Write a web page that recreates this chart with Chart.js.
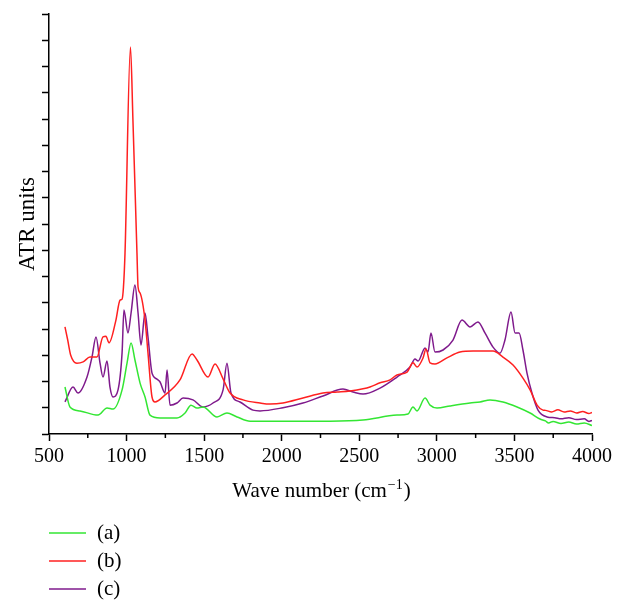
<!DOCTYPE html>
<html>
<head>
<meta charset="utf-8">
<script src="https://cdn.jsdelivr.net/npm/chart.js@4/dist/chart.umd.min.js"></script>
<style>
  body { margin: 0; background: #fff; }
</style>
</head>
<body>
<canvas id="grafica" width="626" height="611"></canvas>
<script>
const etiquetas = ['(a)', '(b)', '(c)'];
const colores = ['#33e633', '#ff2020', '#7f1a8c'];

// (a) verde
const ondaA = [603, 635, 700, 816, 874, 913, 971, 1003, 1029, 1054, 1087, 1119, 1151, 1216, 1325, 1377, 1415, 1454, 1493,
  1583, 1647, 1712, 1796, 2000, 2311, 2524, 2743, 2814, 2846, 2872, 2924, 2956, 3001, 3085, 3214, 3278, 3343, 3426,
  3517, 3601, 3665, 3700, 3720, 3749, 3800, 3850, 3900, 3950, 4000];
const atrA = [1.79, 1.03, 0.88, 0.72, 0.99, 0.95, 1.68, 2.70, 3.47, 2.82, 1.94, 1.41, 0.72, 0.61, 0.61, 0.80, 1.10, 0.99, 1.03,
  0.65, 0.80, 0.65, 0.49, 0.49, 0.49, 0.53, 0.72, 0.76, 1.03, 0.88, 1.37, 1.10, 0.99, 1.07, 1.18, 1.22, 1.30, 1.22,
  1.03, 0.80, 0.57, 0.50, 0.42, 0.48, 0.40, 0.46, 0.38, 0.42, 0.32];

// (b) rojo
const ondaB = [603, 620, 640, 680, 720, 764, 809, 848, 867, 887, 930, 958, 971, 980, 990, 1025, 1041, 1067, 1074, 1087,
  1119, 1138, 1164, 1183, 1248, 1344, 1422, 1454, 1525, 1570, 1622, 1667, 1751, 1860, 1925, 2008, 2137, 2266, 2357,
  2440, 2524, 2569, 2634, 2698, 2743, 2808, 2846, 2872, 2911, 2930, 2956, 2988, 3065, 3149, 3233, 3362, 3426, 3491,
  3555, 3601, 3646, 3684, 3700, 3740, 3780, 3820, 3860, 3900, 3940, 3980, 4000];
const atrB = [4.08, 3.60, 3.00, 2.70, 2.75, 2.93, 2.93, 3.70, 3.72, 3.47, 4.30, 5.10, 5.14, 5.60, 6.90, 14.74, 11.96, 6.90, 5.60, 5.37,
  4.34, 3.09, 1.41, 1.22, 1.49, 2.06, 3.05, 2.82, 2.17, 2.67, 2.10, 1.56, 1.30, 1.18, 1.14, 1.18, 1.37, 1.56, 1.60,
  1.64, 1.72, 1.79, 1.95, 2.06, 2.25, 2.36, 2.71, 2.55, 2.90, 3.24, 2.71, 2.67, 2.90, 3.12, 3.16, 3.16, 2.93, 2.63,
  2.13, 1.68, 1.10, 0.91, 0.90, 0.84, 0.92, 0.84, 0.88, 0.80, 0.86, 0.78, 0.82];

// (c) morado
const ondaC = [603, 655, 687, 745, 777, 803, 829, 848, 874, 893, 913, 945, 971, 983, 1009, 1029, 1054, 1074, 1093, 1119,
  1138, 1164, 1196, 1216, 1248, 1261, 1280, 1325, 1364, 1428, 1493, 1557, 1622, 1647, 1673, 1731, 1815, 1860, 2008,
  2137, 2266, 2395, 2460, 2524, 2634, 2743, 2827, 2859, 2879, 2924, 2943, 2962, 2988, 3040, 3104, 3162, 3214, 3265,
  3310, 3362, 3407, 3439, 3478, 3504, 3530, 3555, 3581, 3613, 3652, 3710, 3760, 3800, 3850, 3900, 3950, 3980, 4000];
const atrC = [1.22, 1.79, 1.56, 2.17, 2.93, 3.70, 2.70, 2.17, 2.78, 1.79, 1.41, 1.68, 3.09, 4.72, 3.85, 4.61, 5.68, 4.61, 3.39, 4.61,
  3.70, 2.32, 2.09, 1.98, 1.56, 2.44, 1.10, 1.18, 1.37, 1.30, 1.03, 1.18, 1.68, 2.70, 1.56, 1.22, 0.91, 0.88, 1.00,
  1.18, 1.45, 1.71, 1.60, 1.52, 1.75, 2.17, 2.55, 2.86, 2.78, 3.28, 3.12, 3.85, 3.12, 3.20, 3.58, 4.34, 4.08, 4.27,
  3.85, 3.31, 3.08, 3.58, 4.65, 3.85, 3.85, 3.20, 2.32, 1.56, 0.91, 0.65, 0.62, 0.58, 0.62, 0.55, 0.58, 0.48, 0.52];

const marcasX = [500, 1000, 1500, 2000, 2500, 3000, 3500, 4000];
const marcasMenoresX = [750, 1250, 1750, 2250, 2750, 3250, 3750];
const tituloX = ['Wave number (cm', '\u22121', ')'];
const tituloY = 'ATR units';

const fuente = '"Liberation Serif", "Times New Roman", serif';

function serie(ondas, valores) {
    return ondas.map((o, i) => ({ x: o, y: valores[i] }));
}

const extras = {
    id: 'extras',
    afterDraw(chart) {
        const ctx = chart.ctx;
        const ejeX = chart.scales.x;
        const area = chart.chartArea;
        ctx.save();
        // marcas menores del eje x
        ctx.strokeStyle = '#000';
        ctx.lineWidth = 1.5;
        marcasMenoresX.forEach(v => {
            const px = ejeX.getPixelForValue(v);
            ctx.beginPath();
            ctx.moveTo(px, area.bottom);
            ctx.lineTo(px, area.bottom + 4);
            ctx.stroke();
        });

        // titulo del eje x con superindice
        ctx.fillStyle = '#000';
        ctx.textBaseline = 'alphabetic';
        const fNormal = '21px ' + fuente;
        const fSup = '14px ' + fuente;
        ctx.font = fNormal;
        const w1 = ctx.measureText(tituloX[0]).width;
        const w3 = ctx.measureText(tituloX[2]).width;
        ctx.font = fSup;
        const w2 = ctx.measureText(tituloX[1]).width;
        let x0 = (area.left + area.right) / 2 - (w1 + w2 + w3) / 2;
        const base = 497;
        ctx.font = fNormal;
        ctx.fillText(tituloX[0], x0, base);
        ctx.font = fSup;
        ctx.fillText(tituloX[1], x0 + w1 + 1, base - 8);
        ctx.font = fNormal;
        ctx.fillText(tituloX[2], x0 + w1 + w2 + 2, base);

        // leyenda vertical
        ctx.font = '21px ' + fuente;
        ctx.textBaseline = 'middle';
        chart.data.datasets.forEach((ds, i) => {
            const y = 533 + i * 28;
            ctx.strokeStyle = ds.borderColor;
            ctx.lineWidth = 1.5;
            ctx.beginPath();
            ctx.moveTo(49, y);
            ctx.lineTo(86, y);
            ctx.stroke();
            ctx.fillStyle = '#000';
            ctx.fillText(ds.label, 97, y);
        });
        ctx.restore();
    }
};

const ctx = document.getElementById('grafica');
new Chart(ctx, {
    type: 'line',
    data: {
        datasets: [
            { label: etiquetas[0], data: serie(ondaA, atrA), borderColor: colores[0] },
            { label: etiquetas[1], data: serie(ondaB, atrB), borderColor: colores[1] },
            { label: etiquetas[2], data: serie(ondaC, atrC), borderColor: colores[2] }
        ]
    },
    options: {
        responsive: false,
        animation: false,
        layout: { padding: { top: 14, right: 34, bottom: 137, left: 0 } },
        elements: {
            point: { radius: 0 },
            line: { borderWidth: 1.5, cubicInterpolationMode: 'monotone', fill: false }
        },
        scales: {
            x: {
                type: 'linear',
                min: 500,
                max: 4000,
                afterFit: (s) => { s.height = 40; },
                afterBuildTicks: (s) => { s.ticks = marcasX.map(v => ({ value: v })); },
                grid: { drawOnChartArea: false, tickLength: 7, tickWidth: 1.5, tickColor: '#000' },
                border: { display: true, color: '#000', width: 1.5 },
                ticks: {
                    color: '#000', padding: 4, maxRotation: 0,
                    font: { family: fuente, size: 20 },
                    callback: (v) => String(v)
                }
            },
            y: {
                min: 0,
                max: 16,
                afterFit: (s) => { s.width = 49; },
                grid: { drawOnChartArea: false, tickLength: 7, tickWidth: 1.5, tickColor: '#000' },
                border: { display: true, color: '#000', width: 1.5 },
                ticks: { stepSize: 1, callback: () => '' },
                title: { display: true, text: tituloY, color: '#000', padding: { top: 14 }, font: { family: fuente, size: 23 } }
            }
        },
        plugins: {
            legend: { display: false },
            tooltip: { enabled: false }
        }
    },
    plugins: [extras]
});
</script>
</body>
</html>
